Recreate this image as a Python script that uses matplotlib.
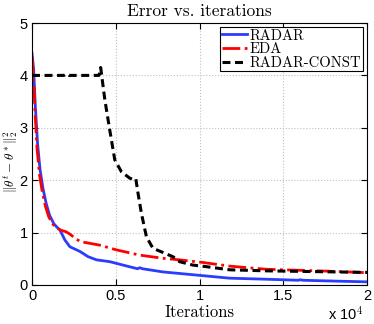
import numpy as np
import matplotlib
matplotlib.use("Agg")
import matplotlib.pyplot as plt
from matplotlib.ticker import FuncFormatter

plt.rcParams['mathtext.fontset'] = 'cm'
plt.rcParams['axes.unicode_minus'] = False

# RADAR
radar_x = [0, 100, 200, 330, 480, 650, 850, 1050, 1300, 1500, 1670, 1960, 2260, 2860,
           3350, 3850, 4640, 5430, 6300, 6430, 6600, 7800, 9800, 11800, 14000, 15900,
           16000, 16200, 18000, 20000]
radar_y = [4.42, 4.1, 3.4, 2.7, 2.2, 1.85, 1.55, 1.33, 1.17, 1.1, 1.05, 0.86, 0.73, 0.64,
           0.54, 0.48, 0.445, 0.38, 0.31, 0.33, 0.31, 0.25, 0.19, 0.13, 0.11, 0.09,
           0.10, 0.09, 0.075, 0.06]

# EDA
eda_x = [0, 80, 180, 300, 450, 600, 800, 1000, 1270, 1500, 1770, 2000, 2170, 2860, 4050,
         5040, 6430, 7800, 8800, 10200, 11800, 14000, 16000, 18000, 20000]
eda_y = [4.36, 4.04, 3.3, 2.6, 2.1, 1.8, 1.5, 1.3, 1.15, 1.08, 1.04, 1.02, 0.99, 0.83, 0.76,
         0.67, 0.57, 0.51, 0.48, 0.43, 0.36, 0.30, 0.28, 0.26, 0.235]

# RADAR-CONST
const_x = [0, 1900, 2060, 2200, 4000, 4100, 4200, 4350, 4640, 4940, 5340, 5830, 6130,
           6200, 6330, 6530, 6830, 7220, 7820, 8410, 8810, 9600, 10400, 11800, 14000,
           16000, 18000, 20000]
const_y = [4.0, 4.0, 4.03, 4.0, 4.0, 4.15, 3.9, 3.53, 2.96, 2.39, 2.16, 2.04, 2.0,
           2.02, 1.75, 1.37, 0.92, 0.70, 0.62, 0.54, 0.445, 0.38, 0.35, 0.29, 0.27,
           0.26, 0.25, 0.24]

xticks = [0, 5000, 10000, 15000, 20000]
yticks = [0, 1, 2, 3, 4, 5]

fig = plt.figure(figsize=(3.74, 3.24), dpi=100)
ax = fig.add_axes([0.0856, 0.1204, 0.8957, 0.8086])

ax.plot(radar_x, radar_y, '-', color='#2b3cff', lw=2, label='RADAR')
ax.plot(eda_x, eda_y, '-.', color='red', lw=2, label='EDA')
ax.plot(const_x, const_y, '--', color='black', lw=2.2, dashes=(2.6, 1.5),
        label='RADAR-CONST')

ax.set_xlim(0, 20000)
ax.set_ylim(0, 5)
ax.set_xticks(xticks)
ax.set_yticks(yticks)
ax.xaxis.set_major_formatter(FuncFormatter(lambda v, p: f"{v / 1e4:g}"))
ax.tick_params(direction='in', top=True, right=True, labelsize=10.5, length=4, pad=3)
for lab in ax.get_xticklabels() + ax.get_yticklabels():
    lab.set_family('Liberation Sans')
ax.grid(True, linestyle=':', color='#c0c0c0', lw=0.8)

ax.set_title('Error vs. iterations', family='cmr10', fontsize=12.5, pad=5)
ax.set_xlabel('Iterations', family='cmr10', fontsize=12, labelpad=1)
ax.set_ylabel(r'$\|\theta^t-\theta^*\|_2^2$', fontsize=9.5, va='center')
ax.yaxis.set_label_coords(-0.064, 0.47)
ax.text(0.99, -0.075, r'x 10$^4$', transform=ax.transAxes, ha='right', va='top',
        family='Liberation Sans', fontsize=10.5)

leg = ax.legend(loc='upper right', fancybox=False, edgecolor='black', framealpha=1,
                handlelength=1.7, borderpad=0.1, labelspacing=0.0, handletextpad=0.2,
                borderaxespad=0.3, prop={'family': 'cmr10', 'size': 10.5})
leg.get_frame().set_linewidth(0.8)

fig.savefig('out.png', dpi=100)
